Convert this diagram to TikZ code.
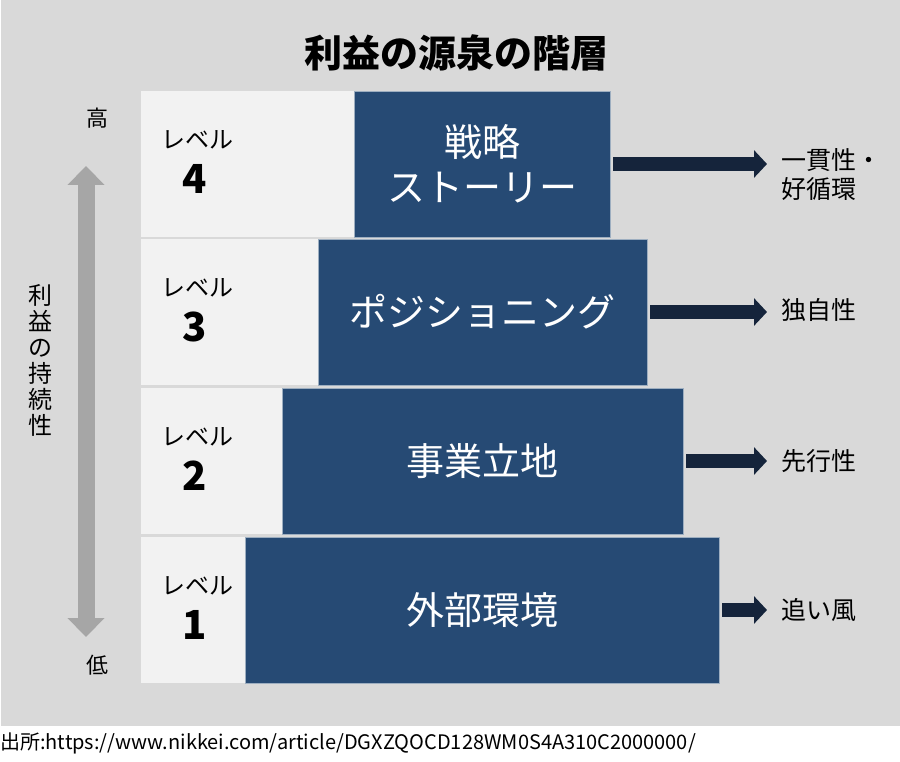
\documentclass[tikz,border=0pt]{standalone}
\usepackage{fontspec}
\setmainfont{Noto Sans CJK JP}
\usetikzlibrary{arrows.meta}
\definecolor{bggray}{HTML}{D9D9D9}
\definecolor{panel}{HTML}{F2F2F2}
\definecolor{navy}{HTML}{264A74}
\definecolor{arrownavy}{HTML}{15243B}
\definecolor{axisgray}{HTML}{A6A6A6}
\tikzset{
  stage/.style={fill=navy,draw=white!55!navy,line width=0.8pt,text=white,
    font=\fontsize{38}{45}\selectfont,align=center,inner sep=0pt,minimum height=146pt},
  flow/.style={draw=arrownavy,line width=14pt,-{Triangle[length=13pt,width=27pt]}},
  effect/.style={font=\fontsize{25}{29}\selectfont,anchor=west,align=left,inner sep=0pt},
  lvl/.style={font=\fontsize{24}{26}\selectfont,inner sep=0pt},
  lvlnum/.style={font=\fontsize{40}{44}\selectfont\bfseries,inner sep=0pt},
  axislabel/.style={font=\fontsize{22}{24}\selectfont,inner sep=0pt}
}
\begin{document}
\begin{tikzpicture}[x=1pt,y=-1pt]
\useasboundingbox (0,0) rectangle (900,762);
\fill[bggray] (1,0) rectangle (900,726);
\node[font=\fontsize{38}{44}\selectfont\bfseries] (title) at (456,53) {利益の源泉の階層};
\coordinate (tipx) at (767,0);
\foreach \n/\ytop/\xcut/\rx/\stagetext/\ly/\effecttext in {
  4/91/354/610/{戦略\\ストーリー}/175/{一貫性・\\好循環},
  3/239/318/647/{ポジショニング}/310/{独自性},
  2/388/282/683/{事業立地}/461/{先行性},
  1/537/245/719/{外部環境}/610/{追い風}}{
  \fill[panel] (141,\ytop) rectangle (\xcut,\ytop+146);
  \node[stage,minimum width={(\rx-\xcut)*1pt}] (stage\n) at ({(\xcut+\rx)/2},\ytop+73) {\stagetext};
  \node[lvl] (lvl\n) at (197,\ytop+49) {レベル};
  \node[lvlnum] (num\n) at (195,\ytop+88) {\n};
  \node[effect] (effect\n) at (781,\ly) {\effecttext};
  \draw[flow] ([xshift=3pt]stage\n.east) -- (stage\n.east -| tipx);
}
\node[axislabel] (high) at (97,118) {高};
\node[axislabel] (low) at (97,665) {低};
\coordinate (axtop) at (86,166);
\coordinate (axbot) at (86,637);
\draw[axisgray,line width=17pt,{Triangle[length=19pt,width=36pt]}-{Triangle[length=19pt,width=36pt]}] (axtop) -- (axbot);
\node[font=\fontsize{24}{26}\selectfont,align=center,inner sep=0pt] (sustain) at (40,360) {利\\益\\の\\持\\続\\性};
\node[anchor=west,inner sep=0pt,font=\fontsize{20}{22}\selectfont] (source) at (0,743) {出所:https://www.nikkei.com/article/DGXZQOCD128WM0S4A310C2000000/};
\end{tikzpicture}
\end{document}
